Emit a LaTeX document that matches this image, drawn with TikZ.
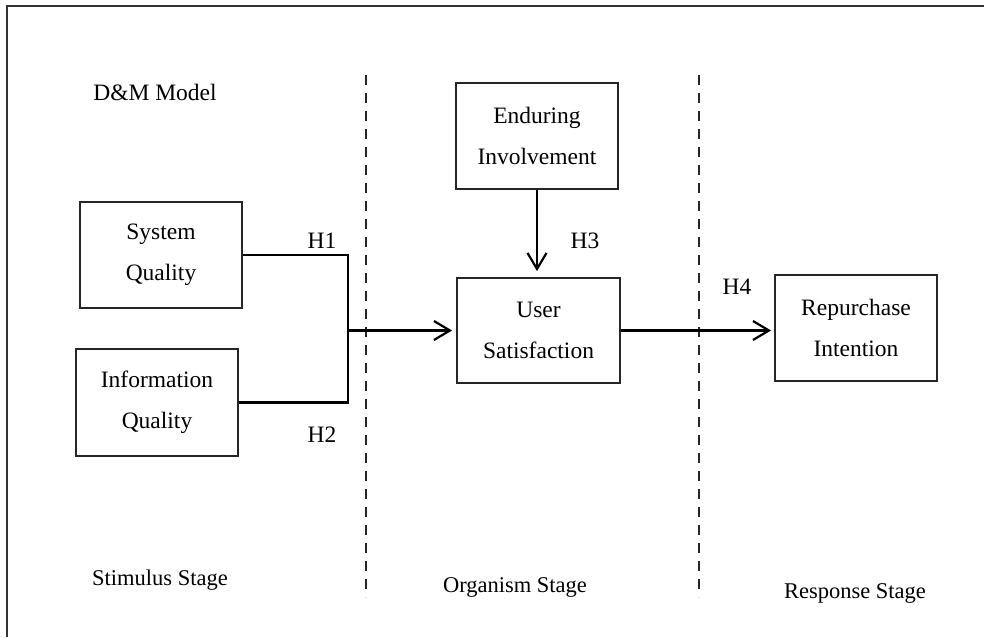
\documentclass[tikz,border=0pt]{standalone}
\usepackage{fontspec}
\setmainfont{Liberation Serif}
\usetikzlibrary{arrows.meta}
\begin{document}
\begin{tikzpicture}[x=1pt,y=-1pt,
  box/.style={draw=black!85, line width=1.8pt, minimum width=162pt, minimum height=106pt,
    inner sep=0pt, align=center, font=\fontsize{23.5}{41}\selectfont},
  lbl/.style={font=\fontsize{23.5}{28}\selectfont, inner sep=0pt},
  stage/.style={font=\fontsize{22.5}{27}\selectfont, inner sep=0pt},
  conn/.style={line width=2.2pt, black},
  arr/.style={conn, -{Straight Barb[length=16pt,width=19pt]}},
  divider/.style={line width=2pt, dash pattern=on 10pt off 8pt, black!85}]
\useasboundingbox (0,0) rectangle (984,637);
\draw[line width=1.6pt, black!80] (7,637) -- (7,6) -- (984,6);

% dividers
\coordinate (d1t) at (366,75);
\coordinate (d1b) at (366,597);
\coordinate (d2t) at (699,75);
\coordinate (d2b) at (699,597);
\draw[divider] (d1t) -- (d1b);
\draw[divider] (d2t) -- (d2b);

% boxes
\node[box] (sq) at (161,255) {System\\Quality};
\node[box, minimum height=107pt] (iq) at (157,402.5) {Information\\Quality};
\node[box] (ei) at (537,136) {Enduring\\Involvement};
\node[box, minimum width=163pt, minimum height=105pt] (us) at (538.5,330.5) {User\\Satisfaction};
\node[box] (ri) at (856,328) {Repurchase\\Intention};

% labels
\node[lbl] (dm) at (155,92) {D\&M Model};
\node[lbl] (h1) at (322,241) {H1};
\node[lbl] (h2) at (322,435) {H2};
\node[lbl] (h3) at (585,241) {H3};
\node[lbl] (h4) at (737,287) {H4};
\node[stage] (st) at (160,580) {Stimulus Stage};
\node[stage] (os) at (515,587) {Organism Stage};
\node[stage] (rs) at (855,593) {Response Stage};

% connectors
\coordinate (m) at (348,330.5);
\draw[conn] (sq.east) -| (m);
\draw[conn] (iq.east) -| (m);
\draw[arr, shorten >=4pt] (m) -- (us.west);
\draw[arr, shorten >=6pt] (ei.south) -- (ei.south |- us.north);
\draw[arr, shorten >=3pt] (us.east) -- (us.east -| ri.west);
\end{tikzpicture}
\end{document}
